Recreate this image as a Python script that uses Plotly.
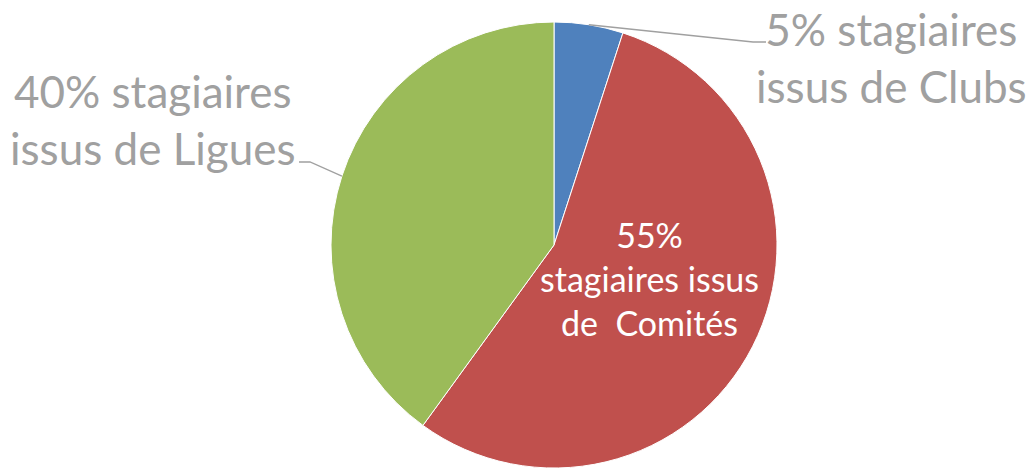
import math
import plotly.graph_objects as go

# ---- data ----
categories = ["Clubs", "Comités", "Ligues"]
values = [5, 55, 40]
label_texts = ["5% stagiaires<br>issus de Clubs",
               "55%<br>stagiaires issus<br>de\u00a0 Comités",
               "40% stagiaires<br>issus de Ligues"]
colors = ["#4F81BD", "#C0504D", "#9BBB59"]

W, H = 1030, 471
CX, CY, R = 554, 245, 223
FONT = "Lato"
GRAY = "#A0A0A0"

def px(x):
    return x / W

def py(y):
    return 1 - y / H

fig = go.Figure(go.Pie(
    labels=categories, values=values, sort=False, direction="clockwise",
    rotation=0, marker=dict(colors=colors, line=dict(color="white", width=1)),
    textinfo="none", hoverinfo="label+percent", showlegend=False,
    domain=dict(x=[px(CX - R), px(CX + R)], y=[py(CY + R), py(CY - R)]),
))

# mid angles of each slice (clockwise from top)
total = sum(values)
mids = []
acc = 0
for v in values:
    mids.append((acc + v / 2) / total * 360)
    acc += v

def edge(angle_deg):
    a = math.radians(angle_deg)
    return CX + R * math.sin(a), CY - R * math.cos(a)

# leader lines
ex, ey = edge(mids[0])
fig.add_shape(type="path", xref="paper", yref="paper",
              path=f"M {px(ex)},{py(ey)} L {px(753)},{py(42)} L {px(766)},{py(42)}",
              line=dict(color=GRAY, width=1.3))
ex, ey = edge(mids[2])
fig.add_shape(type="path", xref="paper", yref="paper",
              path=f"M {px(299)},{py(162)} L {px(310)},{py(162)} L {px(ex)},{py(ey)}",
              line=dict(color=GRAY, width=1.3))

# labels
fig.add_annotation(text=label_texts[0], x=px(891), y=py(58), xref="paper", yref="paper",
                   showarrow=False, xanchor="center", yanchor="middle", align="center",
                   font=dict(family=FONT, size=44, color=GRAY))
fig.add_annotation(text=label_texts[2], x=px(153), y=py(120), xref="paper", yref="paper",
                   showarrow=False, xanchor="center", yanchor="middle", align="center",
                   font=dict(family=FONT, size=44, color=GRAY))
fig.add_annotation(text=label_texts[1], x=px(649), y=py(278), xref="paper", yref="paper",
                   showarrow=False, xanchor="center", yanchor="middle", align="center",
                   font=dict(family=FONT, size=34, color="white"))

fig.update_layout(width=W, height=H, margin=dict(l=0, r=0, t=0, b=0),
                  paper_bgcolor="white", plot_bgcolor="white")
fig.write_html("out.html", config={"displayModeBar": False},
               post_script="document.body.style.margin='0';")
